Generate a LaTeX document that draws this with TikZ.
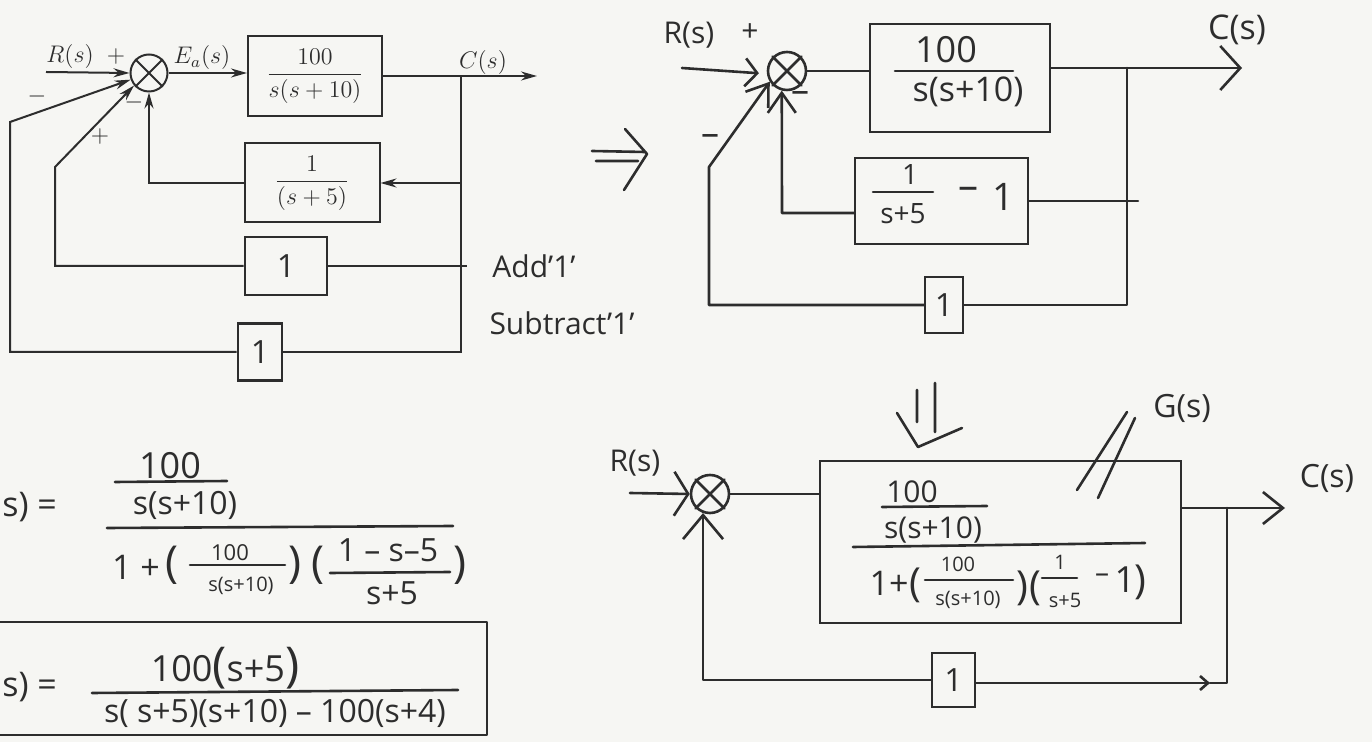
\RequirePackage{fix-cm}
\documentclass[tikz,border=0pt]{standalone}
\usepackage{amsmath}
\usepackage{fontspec}
\newfontfamily\hand{Open Sans}
\usetikzlibrary{arrows.meta,calc}
\definecolor{ink}{RGB}{45,45,45}
\definecolor{paper}{RGB}{246,246,243}
\newcommand\myfs[1]{\fontsize{#1}{#1}\selectfont}
\begin{document}
\begin{tikzpicture}[x=0.5pt,y=-0.5pt,
  every node/.style={inner sep=0pt, text=ink},
  hs/.style={font={\hand\myfs{#1}}},
  ps/.style={font={\myfs{#1}}},
  blk/.style={draw=ink, line width=1pt, inner sep=0pt},
  hblk/.style={draw=ink, line width=1.3pt, inner sep=0pt},
  sumc/.style={circle, draw=ink, line width=1pt, inner sep=0pt},
  wire/.style={draw=ink, line width=1pt},
  hwire/.style={draw=ink, line width=1.3pt, line cap=round, line join=round},
  parr/.style={wire, -{Stealth[length=8pt,width=4.5pt]}},
]
\fill[paper] (0,0) rectangle (1372,742);
\useasboundingbox (0,0) rectangle (1372,742);
\begin{scope}
\clip (0,0) rectangle (1372,742);

% ---------------- top-left printed diagram ----------------
\node[sumc, minimum size=18.5pt] (sL) at (149,73) {};
\draw[wire] (sL.45) -- (sL.225) (sL.135) -- (sL.315);
\coordinate (inL) at (46,72);
\draw[parr] (inL) -- (sL.west);
\node[ps=12] (RL) at (70,57) {$R(s)$};
\node[ps=12] (pL1) at (116,57) {$+$};
\node[ps=12] (EL) at (202,58) {$E_a(s)$};
\node[blk, minimum width=67pt, minimum height=40pt, ps=12] (b1L) at (315,76) {$\dfrac{100}{s(s+10)}$};
\draw[parr] (sL.east) -- (sL.east -| b1L.west);
\coordinate (oL) at (537,76);
\coordinate (brL) at (461,76);
\draw[parr] (b1L.east) -- (oL);
\node[ps=12] (CL) at (483,63) {$C(s)$};
\node[blk, minimum width=67.5pt, minimum height=39.5pt, ps=12] (b2L) at (312,183) {$\dfrac{1}{(s+5)}$};
\coordinate (j2L) at (461,183);
\draw[parr] (j2L) -- (b2L.east);
\draw[parr] (b2L.west) -| (sL.south);
\node[ps=12] (mL3) at (134,103) {$-$};
\node[hblk, minimum width=41pt, minimum height=29pt, hs=16] (b3L) at (286,266) {1};
\coordinate (t3L) at (467,266);
\draw[wire] (b3L.east) -- (t3L);
\coordinate (k3L) at (55,167);
\draw[parr] (b3L.west) -| (k3L) -- (sL.220);
\node[ps=12] (pL2) at (100,137) {$+$};
\node[hblk, minimum width=22pt, minimum height=28.5pt, hs=16] (b4L) at (260,352) {1};
\coordinate (k4L) at (10,122);
\draw[parr] (b4L.west) -| (k4L) -- (sL.200);
\draw[wire] (b4L.east) -| (brL);
\node[ps=12] (mL1) at (37,97) {$-$};
\node[hs=15] (add) at (534,266) {Add’1’};
\node[hs=15] (sub) at (562,323) {Subtract’1’};

% implication arrow
\draw[hwire] (592,151) -- (645,152) (596,161) -- (638,161) (625,129) -- (647,154) -- (624,190);

% ---------------- top-right diagram ----------------
\node[hs=15] (RR) at (689,35) {R(s)};
\node[hs=15] (pR1) at (750,33) {+};
\node[sumc, line width=1.3pt, minimum size=19pt] (sR) at (787,71) {};
\draw[hwire] (sR.45) -- (sR.225) (sR.135) -- (sR.315);
\coordinate (inR) at (682,68);
\draw[hwire, -{Straight Barb[length=6pt,width=14pt]}, shorten >=4pt] (inR) -- (sR.188);
\node[hblk, minimum width=90pt, minimum height=54pt] (b1R) at (960,78) {};
\node[hs=18] (n1R) at (946,50) {100};
\draw[hwire] (895,71) -- (1013,71);
\node[hs=17] (d1R) at (968,92) {s(s+10)};
\draw[hwire] (sR.east) -- (sR.east -| b1R.west);
\coordinate (oR) at (1242,68);
\draw[hwire, -{Straight Barb[length=10pt,width=22pt]}] (b1R.east |- oR) -- (oR);
\node[hs=17] (CR) at (1237,30) {C(s)};
\coordinate (brR) at (1127,68);
\node[hblk, minimum width=86.5pt, minimum height=43pt] (b2R) at (941.5,201) {};
\node[hs=14] (n2R) at (910,175) {1};
\draw[hwire] (873,192) -- (933,192);
\node[hs=14] (d2R) at (903,214) {s+5};
\node[hs=20] (m2R) at (968,193) {–};
\node[hs=19] (o2R) at (1003,197) {1};
\coordinate (t2R) at (1138,201);
\draw[hwire] (b2R.east) -- (t2R);
\coordinate (k2R) at (782,213);
\draw[hwire, -{Straight Barb[length=10pt,width=14pt]}] (b2R.west |- k2R) -- (k2R) -- (sR.255);
\node[hs=18] (mR1) at (800,97) {–};
\node[hblk, minimum width=19pt, minimum height=28pt, hs=16] (b3R) at (944,305) {1};
\draw[hwire] (b3R.east) -| (brR);
\coordinate (k3R) at (709,167);
\draw[hwire, -{Straight Barb[length=10pt,width=14pt]}] (b3R.west) -| (k3R) -- (sR.212);
\node[hs=18] (mR2) at (710,140) {–};

% ---------------- bottom-left formulas ----------------
\node[hs=17, anchor=west] (G1) at (2,507) {s) =};
\node[hs=18] (f1a) at (170,466) {100};
\draw[hwire] (115,482) -- (227,481);
\node[hs=16] (f1b) at (185,505) {s(s+10)};
\draw[hwire] (107,528) -- (453,526);
\node[hs=17] (f1c) at (136,567) {1 +};
\node[hs=22] (f1p1) at (172,565) {(};
\node[hs=11] (f1d) at (230,553) {100};
\draw[hwire] (190,565) -- (285,565);
\node[hs=10] (f1e) at (241,586) {s(s+10)};
\node[hs=22] (f1p2) at (295,565) {)};
\node[hs=22] (f1p3) at (318,565) {(};
\node[hs=16] (f1f) at (388,550) {1 – s–5};
\draw[hwire] (330,573) -- (450,572);
\node[hs=16] (f1g) at (392,593) {s+5};
\node[hs=22] (f1p4) at (460,565) {)};

\draw[hwire] (-10,622) rectangle (487,735);
\node[hs=17, anchor=west] (G2) at (2,687) {s) =};
\node[hs=18] (f2a) at (225,668) {100{\myfs{24}(}s+5{\myfs{24})}};
\draw[hwire] (92,693) -- (458,690);
\node[hs=16] (f2b) at (275,713) {s( s+5)(s+10) – 100(s+4)};

% ---------------- bottom-right diagram ----------------
\draw[hwire] (917,390) -- (917,422) (935,383) -- (935,432) (897,413) -- (918,447) -- (962,428);
\node[hs=16] (GB) at (1182,408) {G(s)};
\draw[hwire] (1127,412) -- (1077,490) (1135,418) -- (1098,498);

\node[hs=15] (RB) at (635,463) {R(s)};
\node[sumc, line width=1.3pt, minimum size=19pt] (sB) at (710,494) {};
\draw[hwire] (sB.45) -- (sB.225) (sB.135) -- (sB.315);
\coordinate (inB) at (630,493);
\draw[hwire, -{Straight Barb[length=7pt,width=22pt]}] (inB) -- (sB.west);
\node[hblk, minimum width=180.5pt, minimum height=81pt] (bB) at (1000.5,542) {};
\draw[hwire] (sB.east) -- (sB.east -| bB.west);
\node[hs=15] (g1) at (912,492) {100};
\draw[hwire] (882,507) -- (987,506);
\node[hs=15] (g2) at (933,530) {s(s+10)};
\draw[hwire] (853,547) -- (1145,543);
\node[hs=17] (g3) at (889,583) {1+};
\node[hs=20] (g4) at (915,585) {(};
\node[hs=10] (g5) at (958,564) {100};
\draw[hwire] (925,580) -- (1013,580);
\node[hs=10] (g6) at (968,600) {s(s+10)};
\node[hs=20] (g7) at (1022,588) {)};
\node[hs=20] (g8) at (1035,588) {(};
\node[hs=10] (g9) at (1060,562) {1};
\draw[hwire] (1042,578) -- (1077,578);
\node[hs=10] (g10) at (1065,600) {s+5};
\node[hs=14] (g11) at (1102,578) {–};
\node[hs=18] (g12) at (1125,580) {1};
\node[hs=20] (g13) at (1140,582) {)};

\coordinate (oB) at (1285,508);
\draw[hwire, -{Straight Barb[length=10pt,width=16pt]}] (bB.east |- oB) -- (oB);
\node[hs=16] (CB) at (1327,478) {C(s)};
\coordinate (vB) at (1227,508);
\coordinate (cB) at (1227,683);
\coordinate (mB) at (1210,683);
\node[hblk, minimum width=21.5pt, minimum height=27pt, hs=16] (b1B) at (953.5,680) {1};
\draw[hwire, -{Straight Barb[length=4pt,width=7pt]}] (b1B.east |- cB) -- (mB);
\draw[hwire] (mB) -- (cB) -- (vB);
\draw[hwire, -{Straight Barb[length=12pt,width=20pt]}] (b1B.west) -| (sB.250);
\end{scope}
\end{tikzpicture}
\end{document}
